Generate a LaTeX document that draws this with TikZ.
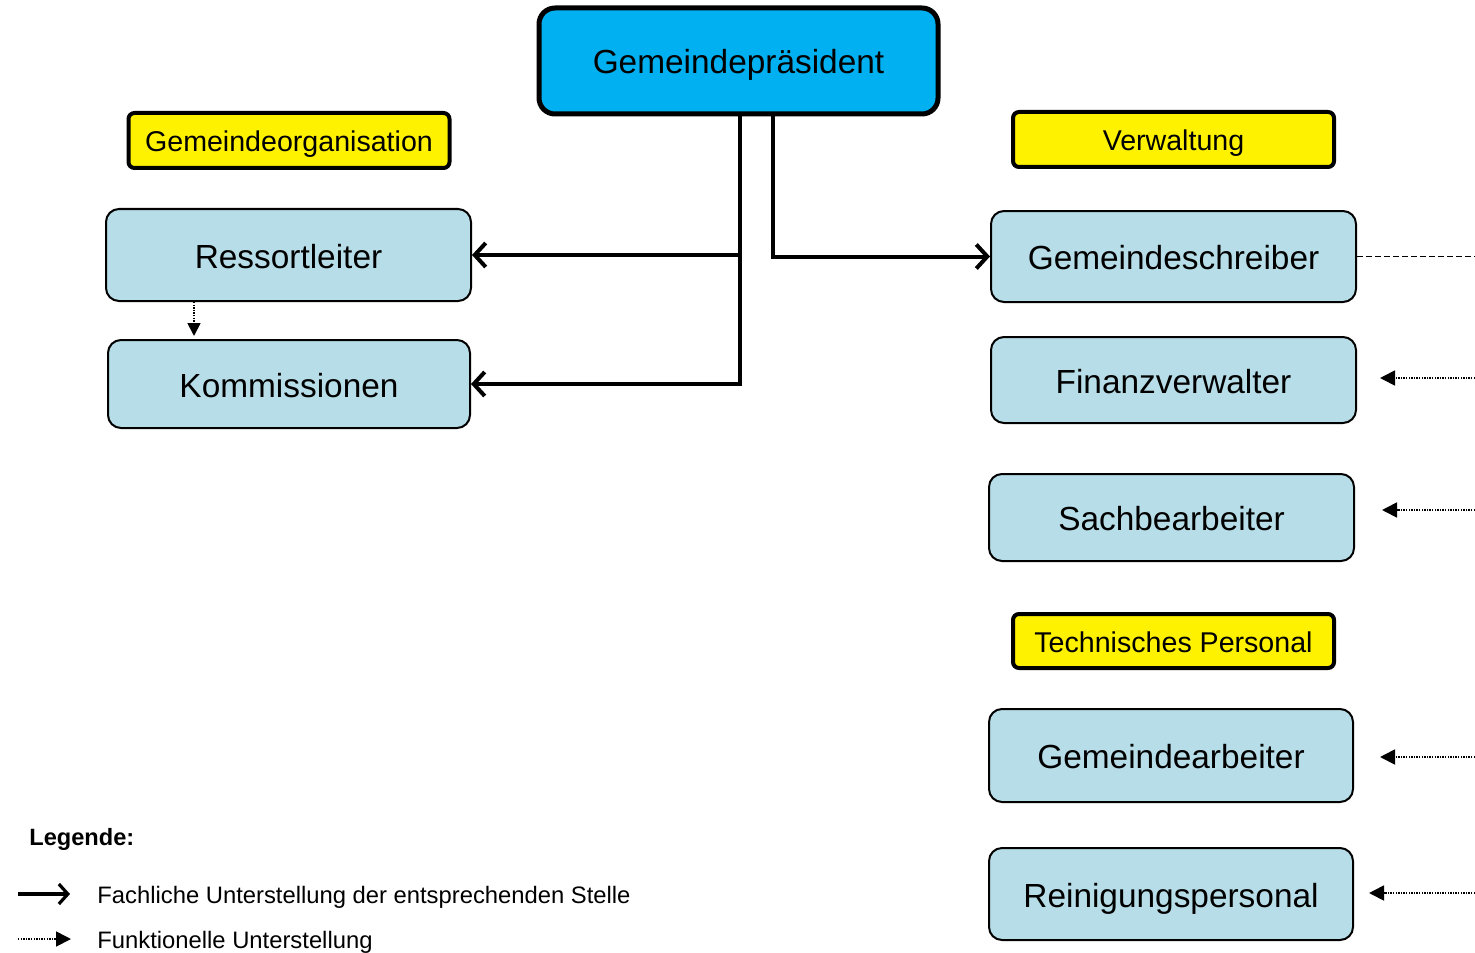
\documentclass[tikz,border=0pt]{standalone}
\usepackage{fontspec}
\setmainfont{Liberation Sans}
\usetikzlibrary{arrows.meta}
\definecolor{presblue}{HTML}{00B0F0}
\definecolor{boxblue}{HTML}{B7DEE8}
\tikzset{
  pres/.style={draw, line width=2.5pt, rounded corners=8pt, fill=presblue,
    font=\fontsize{16.7}{20}\selectfont, inner sep=0pt, text height=13pt, text depth=0pt},
  unit/.style={draw, line width=1pt, rounded corners=6.5pt, fill=boxblue,
    font=\fontsize{16.7}{20}\selectfont, inner sep=0pt, minimum width=182.5pt,
    text height=13pt, text depth=0pt},
  tag/.style={draw, line width=2pt, rounded corners=3pt, fill=yellow,
    font=\fontsize{14.3}{17}\selectfont, inner sep=0pt, minimum width=160.5pt, minimum height=27.5pt,
    text height=11pt, text depth=0pt},
  solidarr/.style={line width=2pt, -{Straight Barb[length=5.5pt,width=12pt,line width=2pt]}},
  dotarr/.style={line width=0.9pt, dash pattern=on 0.7pt off 0.6pt, -{Triangle[length=7.5pt,width=7.5pt]}},
  legtext/.style={anchor=west, font=\fontsize{11.9}{14}\selectfont, inner sep=0pt,
    text height=9.2pt, text depth=0pt},
}
\begin{document}
\begin{tikzpicture}[x=0.5pt, y=-0.5pt]
\useasboundingbox (0,0) rectangle (1475,952);

% nodes
\node[pres, minimum width=199.5pt, minimum height=53pt] (pres) at (738.5,61) {Gemeindepräsident};
\node[tag] (gorg) at (289,140.5) {Gemeindeorganisation};
\node[tag] (verw) at (1173.5,139.5) {Verwaltung};
\node[tag, minimum height=27pt] (tech) at (1173.5,641) {Technisches Personal};

\node[unit, minimum height=46pt] (ress) at (288.5,255) {Ressortleiter};
\node[unit, minimum width=181pt, minimum height=44pt] (komm) at (289,384) {Kommissionen};
\node[unit, minimum height=45.5pt] (schreib) at (1173.5,256.5) {Gemeindeschreiber};
\node[unit, minimum height=43pt] (fin) at (1173.5,380) {Finanzverwalter};
\node[unit, minimum height=43.5pt] (sach) at (1171.5,517.5) {Sachbearbeiter};
\node[unit, minimum width=182pt, minimum height=46.5pt] (arb) at (1171,755.5) {Gemeindearbeiter};
\node[unit, minimum width=182pt, minimum height=46pt] (rein) at (1171,894) {Reinigungspersonal};

% solid connectors
\coordinate (j1) at (740,255);
\coordinate (r1) at (773,256.5);
\draw[solidarr] (pres.south -| j1) |- (komm.east);
\draw[solidarr] (j1) -- (ress.east);
\draw[solidarr] (pres.south -| r1) |- (schreib.west);

% dotted Ressortleiter -> Kommissionen
\coordinate (d1) at (194,0);
\draw[dotarr, -{Triangle[length=6.5pt,width=6.5pt]}, shorten >=1.5pt] (ress.south -| d1) -- (komm.north -| d1);

% dashed line to the right edge
\coordinate (e0) at (1475,256);
\draw[line width=0.8pt, dash pattern=on 3pt off 1.5pt] (schreib.east) -- (e0 |- schreib.east);

% dotted arrows from the right edge
\coordinate (e1) at (1475,378);
\coordinate (e2) at (1475,510);
\coordinate (e3) at (1475,757);
\coordinate (e4) at (1475,893);
\draw[dotarr, shorten >=11.5pt] (e1) -- (e1 -| fin.east);
\draw[dotarr, shorten >=13.5pt] (e2) -- (e2 -| sach.east);
\draw[dotarr, shorten >=13pt] (e3) -- (e3 -| arb.east);
\draw[dotarr, shorten >=7.5pt] (e4) -- (e4 -| rein.east);

% legend
\node[anchor=west, font=\bfseries\fontsize{11.8}{14}\selectfont, inner sep=0pt, text height=9.2pt, text depth=0pt] (leg) at (29,836) {Legende:};
\coordinate (la1) at (18,894);
\coordinate (la2) at (70,894);
\coordinate (lb1) at (18,939);
\coordinate (lb2) at (71,939);
\draw[line width=1.6pt, -{Straight Barb[length=4.5pt,width=10pt,line width=1.6pt]}] (la1) -- (la2);
\draw[dotarr] (lb1) -- (lb2);
\node[legtext] (lt1) at (97,894) {Fachliche Unterstellung der entsprechenden Stelle};
\node[legtext] (lt2) at (97,939) {Funktionelle Unterstellung};
\end{tikzpicture}
\end{document}
